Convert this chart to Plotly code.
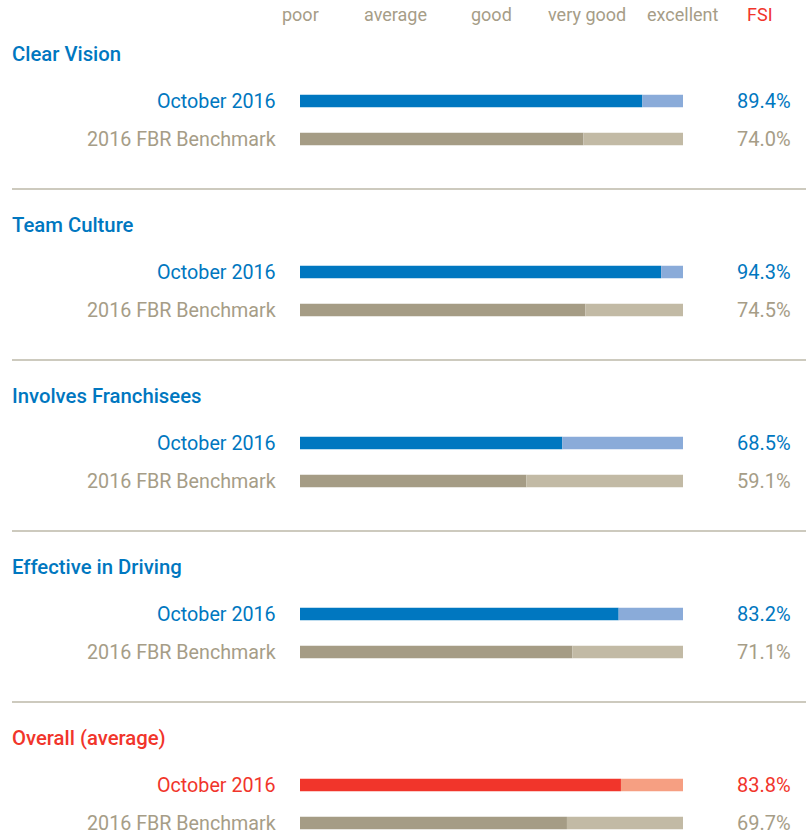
import plotly.graph_objects as go

# data
sections = ['Clear Vision', 'Team Culture', 'Involves Franchisees', 'Effective in Driving', 'Overall (average)']
october = [89.4, 94.3, 68.5, 83.2, 83.8]
benchmark = [74.0, 74.5, 59.1, 71.1, 69.7]
row_labels = ['October 2016', '2016 FBR Benchmark']
scale_labels = ['poor', 'average', 'good', 'very good', 'excellent']
scale_pos = [0, 25, 50, 75, 100]

W, H = 806, 834
X0, X1 = 300, 683
FONT = 'Roboto, DejaVu Sans, sans-serif'

blue, blue_lt = '#0077c0', '#8aabd9'
red, red_lt = '#f1352b', '#f69f82'
tan, tan_lt = '#a59c85', '#c2baa5'
tan_txt = '#a69d87'
rule = '#bdb8a8'

step = 171
def px(x): return x / W
def y_title(k): return 54 + step * k
def y_oct(k): return 101 + step * k
def y_bench(k): return 139 + step * k

fig = go.Figure()
annotations = []
shapes = []

for k, name in enumerate(sections):
    main, light = (red, red_lt) if k == len(sections) - 1 else (blue, blue_lt)
    for y, v, c1, c2, tc, lab in [(y_oct(k), october[k], main, light, main, row_labels[0]),
                                  (y_bench(k), benchmark[k], tan, tan_lt, tan_txt, row_labels[1])]:
        fig.add_trace(go.Bar(x=[v], y=[y], base=[0], orientation='h', width=12.5,
                             marker=dict(color=c1, line_width=0), showlegend=False, hoverinfo='skip'))
        fig.add_trace(go.Bar(x=[100 - v], y=[y], base=[v], orientation='h', width=12.5,
                             marker=dict(color=c2, line_width=0), showlegend=False, hoverinfo='skip'))
        annotations.append(dict(x=px(278), xref='paper', y=y, yref='y', text=lab, showarrow=False,
                                xanchor='right', yanchor='middle', font=dict(family=FONT, size=19.7, color=tc)))
        annotations.append(dict(x=px(793), xref='paper', y=y, yref='y', text=f'{v:.1f}%', showarrow=False,
                                xanchor='right', yanchor='middle', font=dict(family=FONT, size=20, color=tc)))
    annotations.append(dict(x=px(10), xref='paper', y=y_title(k), yref='y', text=name, showarrow=False,
                            xanchor='left', yanchor='middle',
                            font=dict(family=FONT, size=20.3, color=main, weight=500)))
    if k < len(sections) - 1:
        ys = 189 + step * k
        shapes.append(dict(type='line', xref='paper', yref='y', x0=px(12), x1=1, y0=ys, y1=ys,
                           line=dict(color=rule, width=1.5)))

for lab, p in zip(scale_labels, scale_pos):
    annotations.append(dict(x=p, xref='x', y=14, yref='y', text=lab, showarrow=False,
                            xanchor='center', yanchor='middle', font=dict(family=FONT, size=18, color=tan_txt)))
annotations.append(dict(x=px(760), xref='paper', y=14, yref='y', text='FSI', showarrow=False,
                        xanchor='center', yanchor='middle', font=dict(family=FONT, size=18, color=red)))

fig.update_layout(
    width=W, height=H, margin=dict(l=0, r=0, t=0, b=0),
    plot_bgcolor='white', paper_bgcolor='white', barmode='overlay',
    annotations=annotations, shapes=shapes,
    xaxis=dict(domain=[X0 / W, X1 / W], range=[0, 100], visible=False, fixedrange=True),
    yaxis=dict(range=[H, 0], visible=False, fixedrange=True),
)

# drop the default body margin so the figure fills the window exactly
fig.write_html('out.html', config={'displayModeBar': False},
               post_script="document.body.style.margin='0';document.body.style.overflow='hidden';")
